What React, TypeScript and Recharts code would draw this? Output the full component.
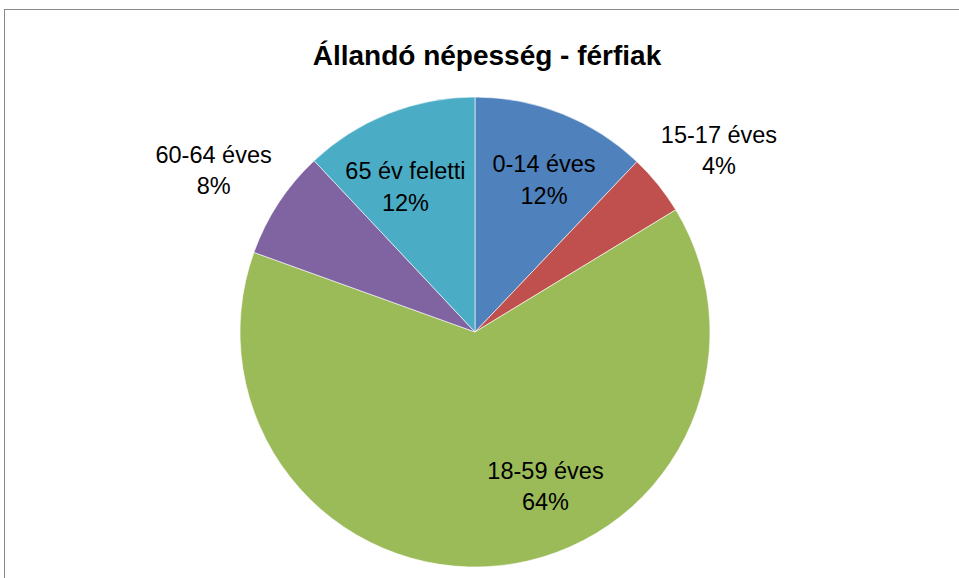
import React from 'react';
import { PieChart, Pie, Cell } from 'recharts';

const categories = ['0-14 éves', '15-17 éves', '18-59 éves', '60-64 éves', '65 év feletti'];
const shares = [12.1, 4.2, 64.2, 7.5, 12.0];
const colors = ['#4F81BD', '#C0504D', '#9BBB59', '#8064A2', '#4BACC6'];
// small hand nudges (px) so labels sit where Excel's "best fit" put them
const labelNudge = [
  [8, 0],
  [8, 8],
  [54, -10],
  [-8, 4],
  [-9, 7],
];

const data = categories.map((name, i) => ({ name, value: shares[i] }));

const FONT = '"Liberation Sans", Arial, sans-serif';
const RAD = Math.PI / 180;

// inside labels for big slices, outside for small ones
const renderLabel = (props: any) => {
  const { cx, cy, midAngle, outerRadius, percent, name, index } = props;
  const r = percent < 0.1 ? outerRadius * 1.29 : outerRadius * 0.7;
  const [nx, ny] = labelNudge[index] || [0, 0];
  const x = cx + r * Math.cos(-midAngle * RAD) + nx;
  const y = cy + r * Math.sin(-midAngle * RAD) + ny;
  return (
    <text x={x} y={y} textAnchor="middle" fill="#000" fontFamily={FONT} fontSize={23.5}>
      <tspan x={x} y={y - 7}>{name}</tspan>
      <tspan x={x} y={y + 24.5}>{`${Math.round(percent * 100)}%`}</tspan>
    </text>
  );
};

const App: React.FC = () => {
  return (
    <div style={{ position: 'absolute', left: 0, top: 0, width: 959, height: 578, overflow: 'hidden', background: '#fff' }}>
      {/* chart frame, only top and left edges are in view */}
      <div
        style={{
          position: 'absolute',
          left: 4,
          top: 9,
          width: 1000,
          height: 600,
          borderTop: '1.5px solid #888',
          borderLeft: '1.5px solid #888',
        }}
      />
      <PieChart
        width={959}
        height={578}
        margin={{ top: 0, right: 0, bottom: 0, left: 0 }}
        style={{ position: 'absolute', left: 0, top: 0 }}
      >
        <text x={487} y={65} textAnchor="middle" fontFamily={FONT} fontSize={28} fontWeight="bold" fill="#000">
          Állandó népesség - férfiak
        </text>
        <Pie
          data={data}
          dataKey="value"
          nameKey="name"
          cx={475}
          cy={332}
          outerRadius={235}
          startAngle={90}
          endAngle={-270}
          stroke="#ffffff"
          strokeWidth={0.6}
          label={renderLabel}
          labelLine={false}
          isAnimationActive={false}
        >
          {data.map((entry, i) => (
            <Cell key={entry.name} fill={colors[i]} />
          ))}
        </Pie>
      </PieChart>
    </div>
  );
};

export default App;
